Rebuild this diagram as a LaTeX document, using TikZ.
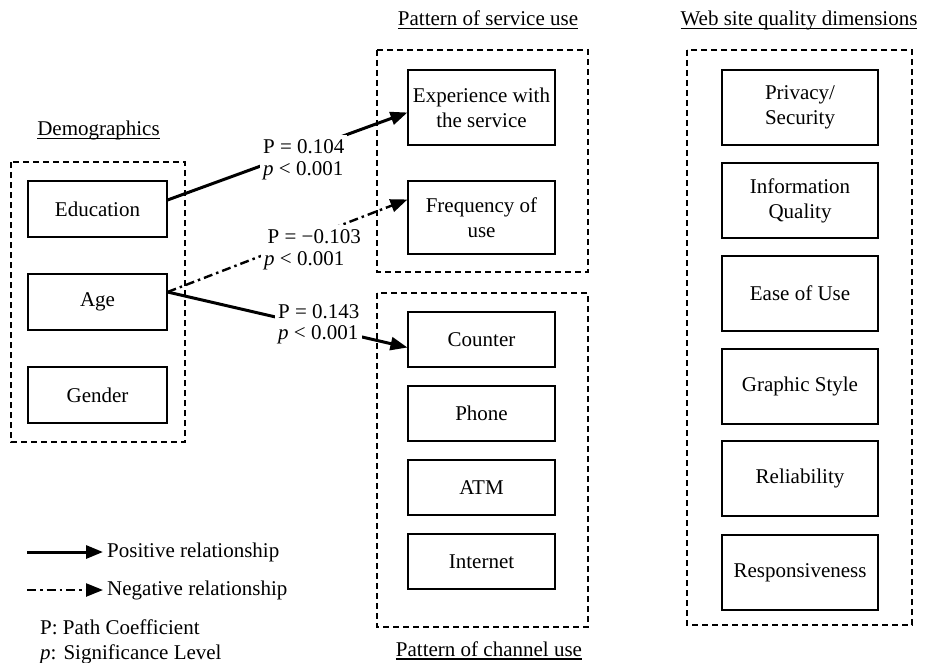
\documentclass[tikz,border=0pt]{standalone}
\usepackage{fontspec}
\setmainfont{Liberation Serif}
\usetikzlibrary{arrows.meta}
% underlined heading with a heavier rule than \underline gives
\newcommand{\headline}[1]{\setbox0\hbox{#1}\rlap{\rule[-3.5pt]{\wd0}{1.8pt}}\box0}
\tikzset{
  every node/.style={font=\fontsize{21}{25}\selectfont, inner sep=0pt},
  item/.style={draw, line width=1.1pt, align=center, minimum width=#1},
  item/.default=147pt,
  group/.style={draw, line width=2pt, dash pattern=on 6pt off 4pt},
  posrel/.style={line width=3pt, -{Triangle[length=17pt,width=13pt]}},
  negrel/.style={line width=2.4pt, dash pattern=on 9pt off 4pt on 2.5pt off 4pt,
                 -{Triangle[length=17pt,width=13pt]}},
  coef/.style={fill=white, align=left, anchor=west, inner xsep=3pt, inner ysep=5pt,
               font=\fontsize{21}{21.5}\selectfont},
  heading/.style={anchor=base}
}
\begin{document}
\begin{tikzpicture}[x=1pt, y=-1pt]
\useasboundingbox (0,0) rectangle (925,663);

% group frames
\draw[group] (11,162) rectangle (185,442);
\draw[group] (377,50) rectangle (588,272);
\draw[group] (377,293) rectangle (588,627);
\draw[group] (687,50) rectangle (912,625);

% headings
\node[heading] (hdemo) at (98.5,136) {\headline{Demographics}};
\node[heading] (hserv) at (488,26) {\headline{Pattern of service use}};
\node[heading] (hweb) at (799,26) {\headline{Web site quality dimensions}};
\node[heading] (hchan) at (489,656) {\headline{Pattern of channel use}};

% demographics
\node[item=139pt, minimum height=56pt] (edu) at (97.5,209) {Education};
\node[item=139pt, minimum height=56pt] (age) at (97.5,302) {Age};
\node[item=139pt, minimum height=56pt] (gen) at (97.5,395) {Gender};

% pattern of service use
\node[item, minimum height=75pt] (exp) at (481.5,107.5) {Experience with\\the service};
\node[item, minimum height=73pt] (freq) at (481.5,217.5) {Frequency of\\use};

% pattern of channel use
\node[item, minimum height=55pt] (counter) at (481.5,339.5) {Counter};
\node[item, minimum height=55pt] (phone) at (481.5,413.5) {Phone};
\node[item, minimum height=55pt] (atm) at (481.5,487.5) {ATM};
\node[item, minimum height=55pt] (inet) at (481.5,561.5) {Internet};

% web site quality dimensions
\node[item=156pt, minimum height=75pt] (priv) at (800,107.5) {Privacy/\\Security};
\node[item=156pt, minimum height=75pt] (info) at (800,200.5) {Information\\Quality};
\node[item=156pt, minimum height=75pt] (ease) at (800,293.5) {Ease of Use};
\node[item=156pt, minimum height=75pt] (graph) at (800,386.5) {Graphic Style};
\node[item=156pt, minimum height=75pt] (rel) at (800,478.5) {Reliability};
\node[item=156pt, minimum height=75pt] (resp) at (800,572.5) {Responsiveness};

% relationships
\draw[posrel] (edu.east) ++(0,-9) -- ([yshift=-5pt]exp.west);
\draw[negrel] (age.east) ++(0,-10) -- ([yshift=18pt]freq.west);
\draw[posrel] (age.east) ++(0,-10) -- ([yshift=-8pt]counter.west);

% path coefficients
\node[coef] (c1) at (260,160) {P = 0.104\\\textit{p} < 0.001};
\node[coef] (c2) at (261,250) {\,P = \textminus0.103\\\textit{p} < 0.001};
\node[coef] (c3) at (275,324) {P = 0.143\\\textit{p} < 0.001};

% legend
\coordinate (l1a) at (27,552);
\coordinate (l1b) at (103,552);
\coordinate (l2a) at (27,590);
\coordinate (l2b) at (103,590);
\draw[posrel] (l1a) -- (l1b);
\draw[negrel] (l2a) -- (l2b);
\node[anchor=west] (t1) at (107,552) {Positive relationship};
\node[anchor=west] (t2) at (107,590) {Negative relationship};
\node[anchor=base west] (t3) at (40,634) {P: Path Coefficient};
\node[anchor=base west] (t4) at (40,659) {\textit{p}: Significance Level};
\end{tikzpicture}
\end{document}
